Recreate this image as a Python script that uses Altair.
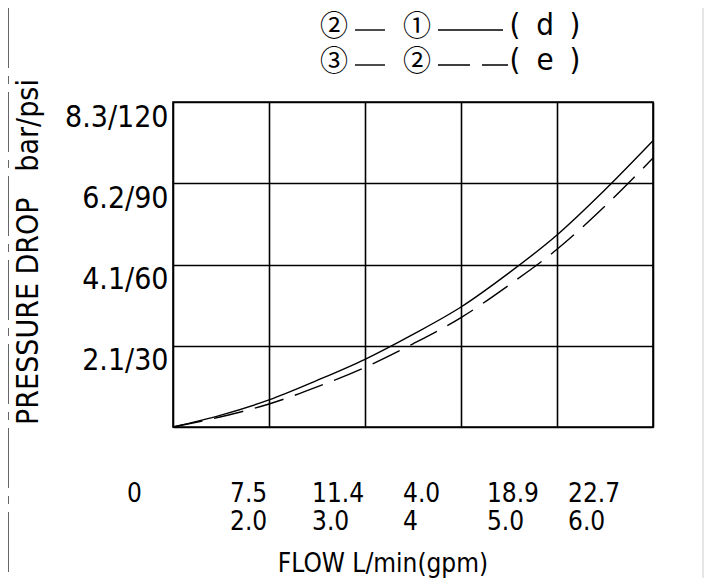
import altair as alt
import pandas as pd

FONT = "DejaVu Sans Condensed, Liberation Sans Narrow, Liberation Sans, sans-serif"
CIRC_FONT = "Noto Sans CJK JP, DejaVu Sans, sans-serif"

# grid columns (flow axis, grid units)
grid_cols = [0, 1, 2, 3, 4, 5]

# curve (d): port 2 -> 1, solid
solid_x = [0, 0.5, 1, 1.5, 2, 2.5, 3, 3.5, 4, 4.5, 5]
solid_psi = [0, 4.4, 10, 17.2, 25, 34.2, 44.3, 56.9, 70.9, 87.6, 105.7]

# curve (e): port 3 -> 2, dashed
dashed_x = [0, 0.5, 1, 1.5, 2, 2.5, 3, 3.5, 4, 4.5, 5]
dashed_psi = [0, 3.8, 8.5, 14.8, 22, 30.7, 40.4, 52.4, 65.6, 81.6, 99.3]

# y ticks
y_ticks_psi = [0, 30, 60, 90, 120]
y_ticks_bar = ["", "2.1", "4.1", "6.2", "8.3"]

# x tick labels (as printed) and where they sit on the flow axis
x_lpm = ["0", "7.5", "11.4", "4.0", "18.9", "22.7"]
x_gpm = ["", "2.0", "3.0", "4", "5.0", "6.0"]
x_label_at = [-0.48, 0.594, 1.448, 2.396, 3.27, 4.115]

W, H = 480, 325
xs = alt.Scale(domain=[0, 5], nice=False, zero=False)
ys = alt.Scale(domain=[0, 120], nice=False, zero=False)

label_expr = " : ".join(
    f"datum.value == {p} ? '{b}/{p}'" for p, b in zip(y_ticks_psi, y_ticks_bar) if b
) + " : ''"

curves = pd.DataFrame(
    {"flow": solid_x + dashed_x,
     "psi": solid_psi + dashed_psi,
     "series": ["d"] * len(solid_x) + ["e"] * len(dashed_x)}
)

base = alt.Chart(curves)

solid = base.transform_filter(alt.datum.series == "d").mark_line(
    color="#000", strokeWidth=1.4, interpolate="monotone"
).encode(
    x=alt.X("flow:Q", scale=xs,
            axis=alt.Axis(values=grid_cols, labels=False, ticks=False, domain=False,
                          title=None, grid=True)),
    y=alt.Y("psi:Q", scale=ys,
            axis=alt.Axis(values=y_ticks_psi, labelExpr=label_expr, ticks=False,
                          domain=False, title=None, grid=True, labelFont=FONT,
                          labelFontSize=30, labelColor="#000", labelPadding=5,
                          labelBaseline="alphabetic", labelOffset=24, labelAlign="right")),
)

dashed = base.transform_filter(alt.datum.series == "e").mark_line(
    color="#000", strokeWidth=1.4, interpolate="monotone", strokeDash=[30, 12]
).encode(x=alt.X("flow:Q", scale=xs), y=alt.Y("psi:Q", scale=ys))

xl = pd.DataFrame({"at": x_label_at, "lpm": x_lpm, "gpm": x_gpm})
top_lbl = alt.Chart(xl).mark_text(
    align="left", baseline="alphabetic", font=FONT, fontSize=26, color="#000"
).encode(x=alt.X("at:Q", scale=xs), y=alt.value(400), text="lpm:N")
bot_lbl = alt.Chart(xl).mark_text(
    align="left", baseline="alphabetic", font=FONT, fontSize=26, color="#000"
).encode(x=alt.X("at:Q", scale=xs), y=alt.value(428), text="gpm:N")

one = pd.DataFrame({"k": [0]})  # single row for annotation marks

x_title = alt.Chart(one).mark_text(
    text="FLOW L/min(gpm)", align="center", baseline="alphabetic", font=FONT,
    fontSize=26, color="#000"
).encode(x=alt.value(210), y=alt.value(470))

y_title = alt.Chart(one).mark_text(
    text="PRESSURE DROP\u00a0\u00a0\u00a0bar/psi", align="center", baseline="middle",
    font=FONT, fontSize=30, angle=270, color="#000"
).encode(x=alt.value(-144), y=alt.value(150))

# decorative edges
left_line = alt.Chart(one).mark_rule(color="#000", strokeWidth=1.2, strokeDash=[60, 8, 8, 8]).encode(
    x=alt.value(-165), y=alt.value(-94), y2=alt.value(H + 151)
)
right_line = alt.Chart(one).mark_rule(color="#e6e6e6", strokeWidth=2).encode(
    x=alt.value(530), y=alt.value(-94), y2=alt.value(H + 151)
)

# legend
legend_from = ["\u2461", "\u2462"]
legend_to = ["\u2460", "\u2461"]
legend_series = ["d", "e"]
legend_layers = []
row_y = [-76, -41]
for i in range(2):
    yy = row_y[i]
    legend_layers.append(alt.Chart(one).mark_text(
        text=legend_from[i], font=CIRC_FONT, fontSize=28, color="#000", baseline="middle"
    ).encode(x=alt.value(161), y=alt.value(yy + 2)))
    legend_layers.append(alt.Chart(one).mark_text(
        text=legend_to[i], font=CIRC_FONT, fontSize=28, color="#000", baseline="middle"
    ).encode(x=alt.value(244), y=alt.value(yy + 2)))
    legend_layers.append(alt.Chart(one).mark_rule(color="#000", strokeWidth=1.4).encode(
        x=alt.value(182), x2=alt.value(212), y=alt.value(yy + 4)))
    if i == 0:
        legend_layers.append(alt.Chart(one).mark_rule(color="#000", strokeWidth=1.4).encode(
            x=alt.value(265), x2=alt.value(330), y=alt.value(yy + 4)))
    else:
        legend_layers.append(alt.Chart(one).mark_rule(color="#000", strokeWidth=1.4,
                                                      strokeDash=[32, 12]).encode(
            x=alt.value(265), x2=alt.value(335), y=alt.value(yy + 4)))
    for txt, px in (("(", 342), (legend_series[i], 372), (")", 402)):
        legend_layers.append(alt.Chart(one).mark_text(
            text=txt, font=FONT, fontSize=31, color="#000", baseline="middle", align="center"
        ).encode(x=alt.value(px), y=alt.value(yy)))

chart = alt.layer(
    solid, dashed, top_lbl, bot_lbl, x_title, y_title, left_line, right_line, *legend_layers
).properties(
    width=W, height=H,
    background="#ffffff",
    autosize=alt.AutoSizeParams(type="none"),
    padding={"left": 165, "top": 94, "right": 51, "bottom": 151},
).configure_view(
    stroke="#000", strokeWidth=1.6
).configure_axis(
    gridColor="#000", gridWidth=1.6, gridOpacity=1
)

chart.save("out.html", embed_options={"renderer": "svg", "actions": False})
